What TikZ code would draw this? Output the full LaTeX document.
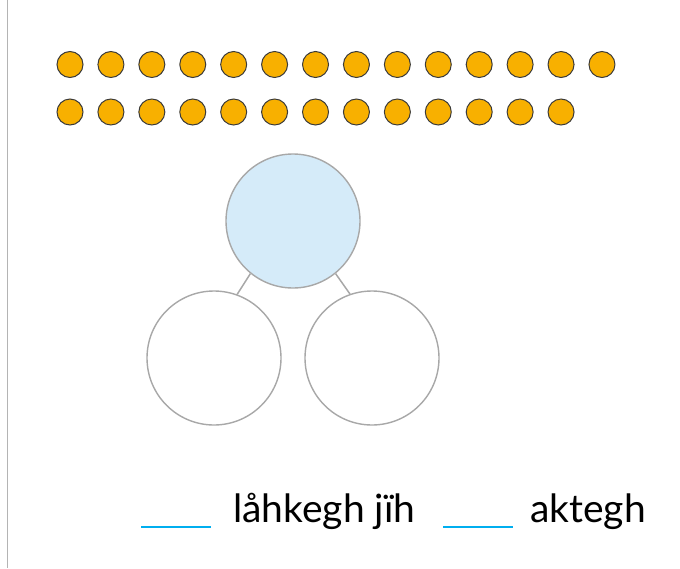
\documentclass[tikz,border=0pt]{standalone}
\usepackage{fontspec}
\setmainfont{Lato}
\begin{document}
\begin{tikzpicture}[x=1pt,y=-1pt,
  dot/.style={circle,minimum size=26pt,inner sep=0,fill=dotfill,draw=dotline,line width=1pt},
  bigcirc/.style={circle,minimum size=134pt,inner sep=0,draw=circline,line width=1.4pt,fill=white},
  link/.style={draw=circline,line width=1.5pt},
  blank/.style={draw=blankblue,line width=1.6pt},
  word/.style={anchor=base west,inner sep=0,font=\fontsize{39}{46}\selectfont}]
\definecolor{dotfill}{HTML}{F8B000}
\definecolor{dotline}{HTML}{3A3A3A}
\definecolor{circline}{HTML}{A8A8A8}
\definecolor{topfill}{HTML}{D5EBF9}
\definecolor{blankblue}{HTML}{00AEEF}
\definecolor{border}{HTML}{B4B4B4}
\useasboundingbox (0,0) rectangle (680,568);
\coordinate (bt) at (7.5,0);
\coordinate (bb) at (7.5,568);
\draw[draw=border,line width=1.5pt] (bt) -- (bb);
\foreach \i in {0,...,13} {\node[dot] (r1d\i) at (70+40.92*\i,64.5) {};}
\foreach \i in {0,...,12} {\node[dot] (r2d\i) at (70+40.92*\i,112) {};}
\node[bigcirc,fill=topfill] (top) at (293,221) {};
\node[bigcirc] (left) at (214,358) {};
\node[bigcirc] (right) at (372,358) {};
\draw[link] (top.231) -- (left.70.5);
\draw[link] (top.309) -- (right.109.5);
\coordinate (b1s) at (141,527);
\coordinate (b1e) at (211,527);
\coordinate (b2s) at (443,527);
\coordinate (b2e) at (513,527);
\draw[blank] (b1s) -- (b1e);
\draw[blank] (b2s) -- (b2e);
\node[word] (w1) at (233,522.5) {låhkegh jïh};
\node[word] (w2) at (530,522.5) {aktegh};
\end{tikzpicture}
\end{document}
